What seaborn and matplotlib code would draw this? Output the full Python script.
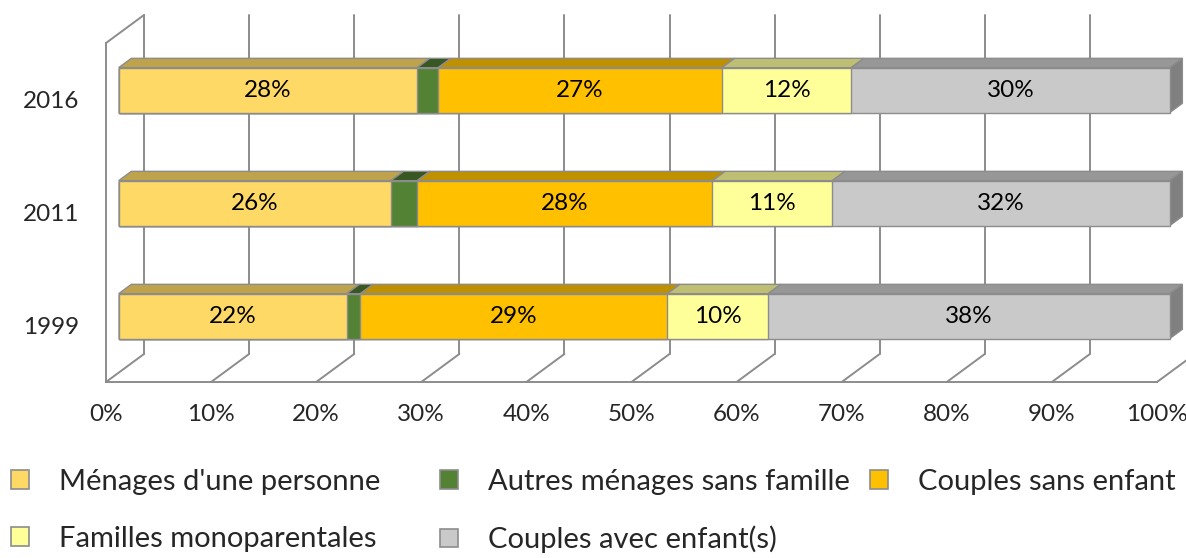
import matplotlib
matplotlib.use("Agg")
from matplotlib import pyplot as plt
from matplotlib.patches import Patch, Polygon
import seaborn as sns

# data (percent of households)
years = ['2016', '2011', '1999']  # top to bottom
categories = ["Ménages d'une personne", "Autres ménages sans famille",
              "Couples sans enfant", "Familles monoparentales",
              "Couples avec enfant(s)"]
menages_une_personne = [28.4, 25.9, 21.7]
autres_menages = [2.0, 2.5, 1.3]
couples_sans_enfant = [27.0, 28.1, 29.2]
familles_mono = [12.3, 11.4, 9.6]
couples_avec_enfant = [30.3, 32.1, 38.2]
show_label = [True, False, True, True, True]

front_colors = ['#FFD966', '#548235', '#FFC000', '#FFFF99', '#C9C9C9']
top_colors = ['#BFA34C', '#385723', '#BF9000', '#BFBF73', '#979797']
side_color = '#808080'
line_gray = '#8C8C8C'
edge_gray = '#8C8C8C'

DX = 3.62   # depth offset in x (percent units)
DY = 0.248  # depth offset in y (band units)
H = 0.398   # bar thickness

sns.set_style('white')
plt.rcParams['font.family'] = ['Lato', 'DejaVu Sans']

fig = plt.figure(figsize=(11.86, 5.58), dpi=100)
ax = fig.add_axes([106 / 1186, (558 - 382) / 558, 1051 / 1186, 339 / 558])

series = [menages_une_personne, autres_menages, couples_sans_enfant,
          familles_mono, couples_avec_enfant]

# cumulative ends per series
cums = []
run = [0.0] * len(years)
for s in series:
    run = [r + v for r, v in zip(run, s)]
    cums.append(run)

# stacked bars: draw the longest cumulative first
for i in reversed(range(len(series))):
    sns.barplot(x=cums[i], y=years, order=years, orient='h', color=front_colors[i],
                saturation=1, width=H, edgecolor=edge_gray, linewidth=1.0,
                zorder=3, ax=ax)

# push the bar fronts into the middle of the depth
for p in ax.patches:
    p.set_x(p.get_x() + DX / 3)
    p.set_y(p.get_y() - DY / 3)
    p.set_clip_on(False)


def proj(x, y, z):
    return (x + DX * z, y - DY * z)


ax.set_xlim(0, 100)
ax.set_ylim(2.5, -0.5)

# back wall gridlines and floor lines
for v in range(0, 101, 10):
    x0, y0 = proj(v, 2.5, 1)
    x1, y1 = proj(v, -0.5, 1)
    ax.plot([x0, x1], [y0, y1], color=line_gray, lw=1.4, zorder=1, clip_on=False)
    fx, fy = proj(v, 2.5, 0)
    ax.plot([fx, x0], [fy, y0], color=line_gray, lw=1.4, zorder=1, clip_on=False)
lx0, ly0 = proj(0, -0.5, 0)
lx1, ly1 = proj(0, -0.5, 1)
ax.plot([lx0, lx1], [ly0, ly1], color=line_gray, lw=1.4, zorder=1, clip_on=False)

# top and side faces of the bars, plus value labels
for j, yr in enumerate(years):
    yt = j - H / 2
    yb = j + H / 2
    start = 0.0
    for i, s in enumerate(series):
        a, b = start, start + s[j]
        top = [proj(a, yt, 1 / 3), proj(b, yt, 1 / 3), proj(b, yt, 2 / 3), proj(a, yt, 2 / 3)]
        ax.add_patch(Polygon(top, closed=True, facecolor=top_colors[i],
                             edgecolor=edge_gray, lw=1.0, zorder=2, clip_on=False))
        if show_label[i]:
            cx, cy = proj((a + b) / 2, j, 1 / 3)
            ax.text(cx, cy, f"{round(s[j])}%", ha='center', va='center',
                    fontsize=17.5, color='black', zorder=4)
        start = b
    side = [proj(start, yt, 1 / 3), proj(start, yb, 1 / 3), proj(start, yb, 2 / 3), proj(start, yt, 2 / 3)]
    ax.add_patch(Polygon(side, closed=True, facecolor=side_color,
                         edgecolor=edge_gray, lw=1.0, zorder=2, clip_on=False))

# axes, ticks
for sp in ['top', 'right']:
    ax.spines[sp].set_visible(False)
for sp in ['left', 'bottom']:
    ax.spines[sp].set_color(line_gray)
    ax.spines[sp].set_linewidth(1.4)

ax.set_xticks(range(0, 101, 10))
ax.set_xticklabels([f"{v}%" for v in range(0, 101, 10)])
ax.set_yticks(range(len(years)))
ax.set_yticklabels(years)
ax.set_yticks([-0.5, 0.5, 1.5, 2.5], minor=True)
ax.tick_params(axis='x', length=4, width=1.4, color=line_gray, pad=12, labelsize=17.5)
ax.tick_params(axis='y', which='major', length=0, pad=19, labelsize=17.5)
ax.tick_params(axis='y', which='minor', length=4.5, width=1.4, color=line_gray)
ax.set_xlabel('')
ax.set_ylabel('')

# legend, three fixed columns like the original
handles = [Patch(facecolor=c, edgecolor=edge_gray, lw=1.2) for c in front_colors]
columns = [([0, 3], 11), ([1, 4], 440), ([2], 870)]
for idx, xpx in columns:
    fig.legend([handles[k] for k in idx], [categories[k] for k in idx],
               loc='upper left', bbox_to_anchor=(xpx / 1186, 1 - 469 / 558),
               frameon=False, fontsize=21, handlelength=0.62, handleheight=0.62,
               handletextpad=1.03, labelspacing=1.05, borderaxespad=0, borderpad=0)

fig.savefig('out.png', dpi=100)
